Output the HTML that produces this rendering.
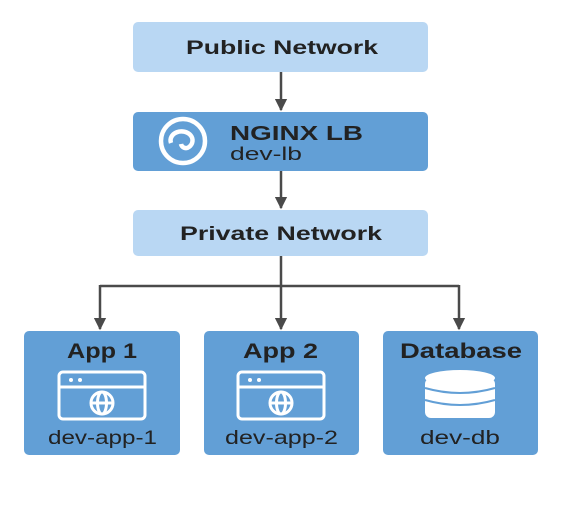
<!DOCTYPE html>
<html><head><meta charset="utf-8"><style>
html,body{margin:0;padding:0;background:#fff;}
body{width:562px;height:521px;overflow:hidden;}
svg text{font-family:"Liberation Sans","DejaVu Sans",sans-serif;fill:#222;}
</style></head><body>
<svg width="562" height="521" viewBox="0 0 562 521" xmlns="http://www.w3.org/2000/svg">
<defs><marker id="ah" viewBox="0 0 10 10" refX="9" refY="5" markerWidth="5" markerHeight="5" orient="auto"><path d="M0,0 L10,5 L0,10 z" fill="#4a4a4a"/></marker></defs>
<rect x="133" y="22" width="295" height="50" rx="5" fill="#b9d7f3"/>
<text x="186" y="54" font-size="19" font-weight="bold" textLength="192" lengthAdjust="spacingAndGlyphs">Public Network</text>
<line x1="281" y1="72" x2="281" y2="110" stroke="#4a4a4a" stroke-width="2.5" marker-end="url(#ah)"/>
<rect x="133" y="112" width="295" height="59" rx="5" fill="#629fd6"/>
<circle cx="183" cy="141" r="22" fill="none" stroke="#fff" stroke-width="4.5"/>
<path d="M171,143 a11,9 0 1 1 18,4 a5,5 0 0 1 -8,-3" fill="none" stroke="#fff" stroke-width="4.5"/>
<text x="230" y="140" font-size="20" font-weight="bold" textLength="133" lengthAdjust="spacingAndGlyphs">NGINX LB</text>
<text x="230" y="160" font-size="18" textLength="72" lengthAdjust="spacingAndGlyphs">dev-lb</text>
<line x1="281" y1="171" x2="281" y2="208" stroke="#4a4a4a" stroke-width="2.5" marker-end="url(#ah)"/>
<rect x="133" y="210" width="295" height="46" rx="5" fill="#b9d7f3"/>
<text x="180" y="240" font-size="19" font-weight="bold" textLength="202" lengthAdjust="spacingAndGlyphs">Private Network</text>
<path d="M281,256 V286 M100,286 H459" stroke="#4a4a4a" stroke-width="2.5" fill="none"/>
<line x1="100" y1="285" x2="100" y2="329" stroke="#4a4a4a" stroke-width="2.5" marker-end="url(#ah)"/>
<line x1="281" y1="285" x2="281" y2="329" stroke="#4a4a4a" stroke-width="2.5" marker-end="url(#ah)"/>
<line x1="459" y1="285" x2="459" y2="329" stroke="#4a4a4a" stroke-width="2.5" marker-end="url(#ah)"/>
<rect x="24" y="331" width="156" height="124" rx="5" fill="#629fd6"/>
<rect x="204" y="331" width="155" height="124" rx="5" fill="#629fd6"/>
<rect x="383" y="331" width="155" height="124" rx="5" fill="#629fd6"/>
<text x="67" y="358" font-size="21" font-weight="bold" textLength="70" lengthAdjust="spacingAndGlyphs">App 1</text>
<text x="243" y="358" font-size="21" font-weight="bold" textLength="75" lengthAdjust="spacingAndGlyphs">App 2</text>
<text x="400" y="358" font-size="21" font-weight="bold" textLength="122" lengthAdjust="spacingAndGlyphs">Database</text>
<text x="48" y="444" font-size="19" textLength="109" lengthAdjust="spacingAndGlyphs">dev-app-1</text>
<text x="225" y="444" font-size="19" textLength="113" lengthAdjust="spacingAndGlyphs">dev-app-2</text>
<text x="420" y="444" font-size="19" textLength="80" lengthAdjust="spacingAndGlyphs">dev-db</text>
<g fill="none" stroke="#fff" stroke-width="3">
<rect x="59" y="372" width="86" height="47" rx="4"/><line x1="59" y1="387" x2="145" y2="387"/>
<circle cx="102" cy="403" r="11"/><line x1="91" y1="403" x2="113" y2="403"/><ellipse cx="102" cy="403" rx="4.5" ry="11"/>
<rect x="238" y="372" width="86" height="47" rx="4"/><line x1="238" y1="387" x2="324" y2="387"/>
<circle cx="281" cy="403" r="11"/><line x1="270" y1="403" x2="292" y2="403"/><ellipse cx="281" cy="403" rx="4.5" ry="11"/>
</g>
<g fill="#fff"><circle cx="71" cy="380" r="2"/><circle cx="80" cy="380" r="2"/><circle cx="250" cy="380" r="2"/><circle cx="259" cy="380" r="2"/></g>
<g fill="#fff">
<ellipse cx="460" cy="378" rx="35" ry="8"/>
<rect x="425" y="378" width="70" height="40" rx="6"/>
</g>
<g stroke="#629fd6" stroke-width="2" fill="none">
<path d="M425,388 Q460,398 495,388"/><path d="M425,400 Q460,410 495,400"/>
</g>
</svg>
</body></html>
